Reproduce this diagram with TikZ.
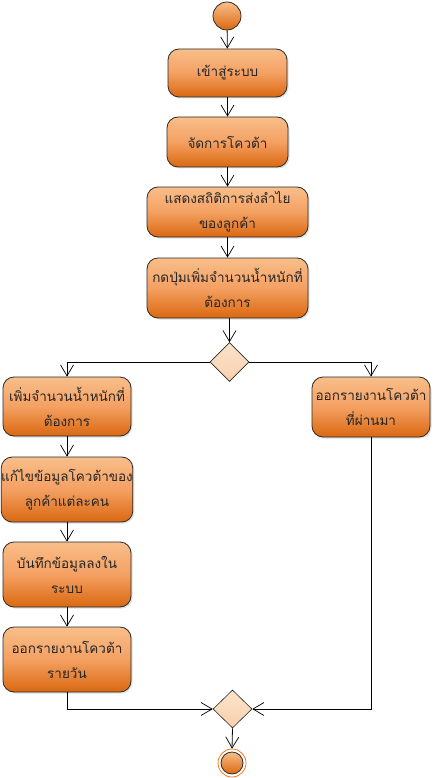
\documentclass[tikz,border=0pt]{standalone}
\usepackage{fontspec}
\newfontfamily\thaifont[Script=Thai]{Loma}
\usetikzlibrary{arrows.meta,shapes.geometric,shadows}
\definecolor{otop}{HTML}{F9BE8A}
\definecolor{omid}{HTML}{F4A062}
\definecolor{obot}{HTML}{DA6810}
\definecolor{dtop}{HTML}{FCE3CC}
\definecolor{dbot}{HTML}{F8D0AC}
\definecolor{edge}{HTML}{2A2A2A}
\tikzset{
  act/.style={draw=edge, line width=0.8pt, rounded corners=11pt, top color=otop, bottom color=obot, middle color=omid,
    drop shadow={opacity=0.25, shadow xshift=1.5pt, shadow yshift=-1.5pt},
    align=center, font=\thaifont\fontsize{13.5}{25}\selectfont, inner sep=0pt, text=black!85},
  dec/.style={draw=edge, line width=0.6pt, diamond, top color=dtop, bottom color=dbot, inner sep=0pt, minimum width=39pt, minimum height=39pt, aspect=1},
  flow/.style={draw=black, line width=0.8pt, -{Straight Barb[length=11pt,width=13pt,line width=0.7pt]}},
}
\begin{document}
\begin{tikzpicture}[x=1pt,y=-1pt]
\useasboundingbox (0,0) rectangle (434,778);
% start
\node[circle, draw=edge, line width=0.8pt, top color=otop, bottom color=obot, minimum size=28pt, inner sep=0pt] (start) at (227,16) {};
\node[act, minimum width=119pt, minimum height=48pt] (b1) at (227.5,73) {เข้าสู่ระบบ};
\node[act, minimum width=121pt, minimum height=50pt] (b2) at (227.5,142) {จัดการโควต้า};
\node[act, minimum width=161pt, minimum height=50pt] (b3) at (227.5,212) {แสดงสถิติการส่งลำไย\\ของลูกค้า};
\node[act, minimum width=161pt, minimum height=60pt] (b4) at (227.5,288) {กดปุ่มเพิ่มจำนวนน้ำหนักที่\\ต้องการ};
\node[dec] (d1) at (229.5,362) {};
\node[act, minimum width=128pt, minimum height=59pt] (b5) at (67,406.5) {เพิ่มจำนวนน้ำหนักที่\\ต้องการ};
\node[act, minimum width=118pt, minimum height=60pt] (r) at (371,407) {ออกรายงานโควต้า\\ที่ผ่านมา};
\node[act, minimum width=128pt, minimum height=65pt] (b6) at (67,489.5) {แก้ไขข้อมูลโควต้าของ\\ลูกค้าแต่ละคน};
\node[act, minimum width=128pt, minimum height=65pt] (b7) at (67,574.5) {บันทึกข้อมูลลงใน\\ระบบ};
\node[act, minimum width=128pt, minimum height=65pt] (b8) at (67,659.5) {ออกรายงานโควต้า\\รายวัน};
\node[dec, minimum width=39pt, minimum height=38pt] (d2) at (232.5,709) {};
% end
\node[circle, draw=orange!80!red, line width=0.7pt, minimum size=28pt, inner sep=0pt] (endo) at (232,763) {};
\node[circle, draw=edge, line width=0.8pt, top color=otop, bottom color=obot, minimum size=22pt, inner sep=0pt] (end) at (232,763) {};
% flows
\draw[flow] (start) -- (b1);
\draw[flow] (b1) -- (b2);
\draw[flow] (b2) -- (b3);
\draw[flow] (b3) -- (b4);
\draw[flow] (b4.south -| d1.north) -- (d1.north);
\draw[flow] (d1.west) -| (b5.north);
\draw[flow] (d1.east) -| (r.north);
\draw[flow] (b5) -- (b6);
\draw[flow] (b6) -- (b7);
\draw[flow] (b7) -- (b8);
\draw[flow] (b8.south) |- (d2.west);
\draw[flow] (r.south) |- (d2.east);
\draw[flow] (d2.south) -- (endo.north);
\end{tikzpicture}
\end{document}
